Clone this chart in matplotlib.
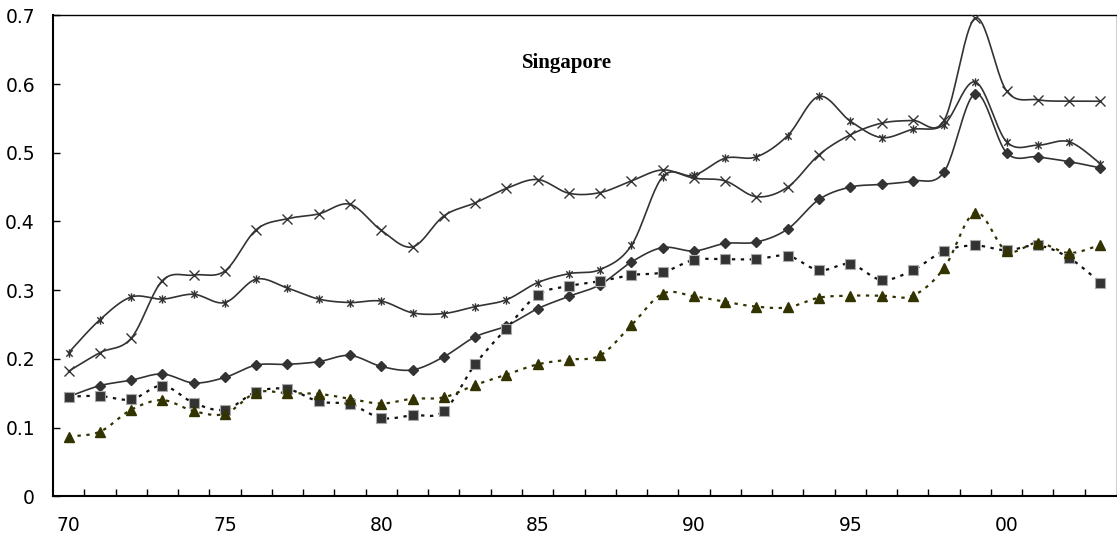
import numpy as np
import matplotlib
matplotlib.use("Agg")
import matplotlib.pyplot as plt
from matplotlib.path import Path

years = np.arange(1970, 2004)

# five ratios for Singapore, 1970-2003
cross = [0.182, 0.209, 0.230, 0.314, 0.322, 0.328, 0.388, 0.404, 0.411, 0.425,
         0.387, 0.363, 0.408, 0.427, 0.448, 0.461, 0.441, 0.442, 0.459, 0.475,
         0.463, 0.459, 0.436, 0.450, 0.497, 0.526, 0.543, 0.547, 0.547, 0.696,
         0.590, 0.577, 0.575, 0.575]
star = [0.209, 0.257, 0.290, 0.287, 0.294, 0.282, 0.316, 0.303, 0.287, 0.282,
        0.284, 0.267, 0.266, 0.276, 0.286, 0.311, 0.324, 0.330, 0.365, 0.465,
        0.467, 0.492, 0.494, 0.525, 0.582, 0.546, 0.522, 0.534, 0.541, 0.603,
        0.516, 0.511, 0.516, 0.484]
diamond = [0.145, 0.161, 0.169, 0.178, 0.165, 0.173, 0.191, 0.192, 0.196, 0.205,
           0.189, 0.184, 0.203, 0.232, 0.248, 0.273, 0.291, 0.308, 0.341, 0.362,
           0.357, 0.368, 0.370, 0.389, 0.432, 0.450, 0.454, 0.459, 0.472, 0.586,
           0.500, 0.494, 0.487, 0.478]
square = [0.145, 0.146, 0.141, 0.161, 0.136, 0.126, 0.152, 0.156, 0.138, 0.134,
          0.114, 0.118, 0.124, 0.192, 0.244, 0.293, 0.306, 0.313, 0.322, 0.326,
          0.344, 0.345, 0.345, 0.350, 0.329, 0.338, 0.315, 0.329, 0.357, 0.365,
          0.358, 0.365, 0.347, 0.311]
triangle = [0.087, 0.094, 0.126, 0.140, 0.124, 0.120, 0.151, 0.150, 0.149, 0.142,
            0.135, 0.142, 0.144, 0.162, 0.177, 0.192, 0.199, 0.205, 0.249, 0.295,
            0.291, 0.283, 0.276, 0.275, 0.289, 0.292, 0.292, 0.292, 0.332, 0.413,
            0.357, 0.369, 0.354, 0.366]

label_years = [1970, 1975, 1980, 1985, 1990, 1995, 2000]
year_labels = ["70", "75", "80", "85", "90", "95", "00"]


def smooth(x, y, n=24):
    # Catmull-Rom style bezier through every point (like a spreadsheet "smoothed line")
    p = np.column_stack([x, y]).astype(float)
    p = np.vstack([p[0], p, p[-1]])
    out = []
    for i in range(1, len(p) - 2):
        p0, p1, p2, p3 = p[i - 1], p[i], p[i + 1], p[i + 2]
        c1 = p1 + (p2 - p0) / 6.0
        c2 = p2 - (p3 - p1) / 6.0
        t = np.linspace(0, 1, n)[:, None]
        seg = ((1 - t) ** 3) * p1 + 3 * ((1 - t) ** 2) * t * c1 + 3 * (1 - t) * t ** 2 * c2 + t ** 3 * p2
        out.append(seg if i == 1 else seg[1:])
    s = np.vstack(out)
    return s[:, 0], s[:, 1]


asterisk = Path([(-1, -1), (1, 1), (-1, 1), (1, -1), (0, -1.3), (0, 1.3)],
                [Path.MOVETO, Path.LINETO, Path.MOVETO, Path.LINETO, Path.MOVETO, Path.LINETO])

fig = plt.figure(figsize=(11.17, 5.40), dpi=100)
ax = fig.add_axes([53 / 1117, (540 - 496.3) / 540, (1116 - 53) / 1117, (496.3 - 15.3) / 540])

dark = "#333333"
olive = "#333300"

# solid smoothed lines
for vals, mk, ms in [(cross, "x", 7), (star, asterisk, 6)]:
    sx, sy = smooth(years, vals)
    ax.plot(sx, sy, color=dark, lw=1.2, zorder=2)
    ax.plot(years, vals, ls="none", marker=mk, ms=ms, mew=1.0, mec=dark, mfc="none", zorder=3)

sx, sy = smooth(years, diamond)
ax.plot(sx, sy, color=dark, lw=1.2, zorder=2)
ax.plot(years, diamond, ls="none", marker="D", ms=5.5, mfc=dark, mec=dark, zorder=3)

# dotted lines
sx, sy = smooth(years, square)
ax.plot(sx, sy, color="#111111", lw=1.6, ls=(0, (1.5, 2.5)), zorder=2)
ax.plot(years, square, ls="none", marker="s", ms=7, mfc=dark, mec="#aaaaaa", mew=0.8, zorder=3)

sx, sy = smooth(years, triangle)
ax.plot(sx, sy, color=olive, lw=1.6, ls=(0, (1.5, 2.5)), zorder=2)
ax.plot(years, triangle, ls="none", marker="^", ms=7, mfc=olive, mec=olive, zorder=3)

ax.text(1985.94, 0.631, "Singapore", ha="center", va="center",
        family="Liberation Serif", fontweight="bold", fontsize=15)

ax.set_xlim(1969.5, 2003.5)
ax.set_ylim(0, 0.7)

ax.set_yticks(np.arange(0, 0.71, 0.1))
ax.set_yticklabels(["0", "0.1", "0.2", "0.3", "0.4", "0.5", "0.6", "0.7"])
ax.set_xticks(label_years)
ax.set_xticklabels(year_labels)
ax.set_xticks(np.arange(1970.5, 2003, 1.0), minor=True)

ax.tick_params(axis="y", direction="in", length=5, width=1, pad=13, labelsize=13.5)
ax.tick_params(axis="x", which="major", length=0, pad=14.5, labelsize=13.5)
ax.tick_params(axis="x", which="minor", direction="in", length=5, width=1)

ax.spines["left"].set_linewidth(1.5)
ax.spines["bottom"].set_linewidth(1.5)
ax.spines["top"].set_linewidth(1.0)
ax.spines["right"].set_color("#d0d0d0")

fig.savefig("out.png", dpi=100)
